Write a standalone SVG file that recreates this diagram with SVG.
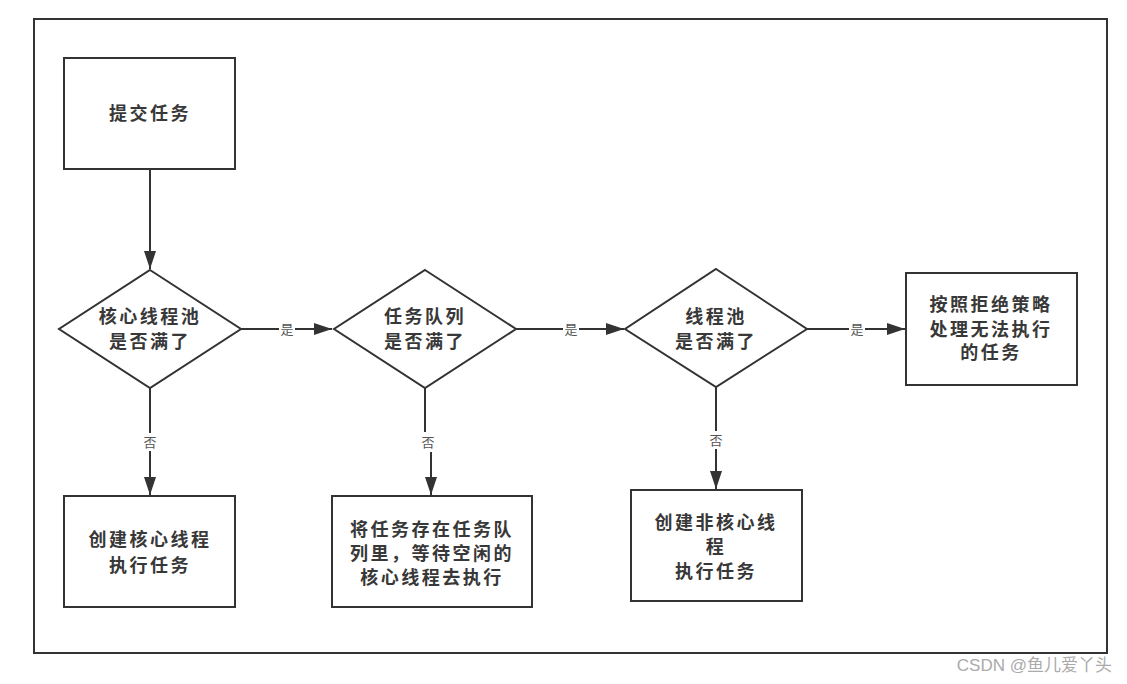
<svg xmlns="http://www.w3.org/2000/svg" width="1127" height="684" viewBox="0 0 1127 684">
<defs>
<marker id="arr" viewBox="0 0 18 12" refX="18" refY="6" markerWidth="18" markerHeight="12" markerUnits="userSpaceOnUse" orient="auto">
<path d="M0,0 L18,6 L0,12 Z" fill="#333"/>
</marker>
<style>
.shape{fill:#fff;stroke:#333;stroke-width:2}
.t{font-family:"Liberation Sans","Noto Sans CJK SC",sans-serif;font-size:18px;font-weight:bold;fill:#383838;text-anchor:middle;letter-spacing:2.5px}
.c{fill:none;stroke:#333;stroke-width:2}
.lbl{font-family:"Liberation Sans","Noto Sans CJK SC",sans-serif;font-size:13px;fill:#555;text-anchor:middle;dominant-baseline:central}
.lb{fill:#fff}
</style>
</defs>
<rect width="1127" height="684" fill="#fff"/>
<rect x="34" y="19" width="1073" height="634" fill="none" stroke="#333" stroke-width="2"/>

<g id="connectors">
<path class="c" d="M150,169 V269" marker-end="url(#arr)"/>
<path class="c" d="M241,329 H332" marker-end="url(#arr)"/>
<path class="c" d="M150,388 V495" marker-end="url(#arr)"/>
<path class="c" d="M516,329 H624" marker-end="url(#arr)"/>
<path class="c" d="M425,388 V442 H431 V495" marker-end="url(#arr)"/>
<path class="c" d="M807,329 H905" marker-end="url(#arr)"/>
<path class="c" d="M716,387 V489" marker-end="url(#arr)"/>
<rect class="lb" x="279" y="320" width="16" height="18"/>
<text class="lbl" x="287" y="329">是</text>
<rect class="lb" x="142" y="433" width="16" height="18"/>
<text class="lbl" x="150" y="442">否</text>
<rect class="lb" x="563" y="320" width="16" height="18"/>
<text class="lbl" x="571" y="329">是</text>
<rect class="lb" x="420" y="432" width="16" height="20"/>
<text class="lbl" x="428" y="442">否</text>
<rect class="lb" x="849" y="320" width="16" height="18"/>
<text class="lbl" x="857" y="329">是</text>
<rect class="lb" x="708" y="431" width="16" height="18"/>
<text class="lbl" x="716" y="440">否</text>
</g>

<g id="n-submit">
<rect class="shape" x="64" y="58" width="171" height="111"/>
<text class="t" x="150" y="120">提交任务</text>
</g>

<g id="n-core-full">
<polygon class="shape" points="150,270 241,329 150,388 59,329"/>
<text class="t" x="150" y="323">核心线程池</text>
<text class="t" x="150" y="348">是否满了</text>
</g>

<g id="n-create-core">
<rect class="shape" x="64" y="496" width="171" height="111"/>
<text class="t" x="150" y="546">创建核心线程</text>
<text class="t" x="150" y="572">执行任务</text>
</g>

<g id="n-queue-full">
<polygon class="shape" points="425,270 516,329 425,388 334,329"/>
<text class="t" x="425" y="323">任务队列</text>
<text class="t" x="425" y="348">是否满了</text>
</g>

<g id="n-enqueue">
<rect class="shape" x="332" y="496" width="200" height="111"/>
<text class="t" x="432" y="536">将任务存在任务队</text>
<text class="t" x="432" y="560">列里，等待空闲的</text>
<text class="t" x="432" y="584">核心线程去执行</text>
</g>

<g id="n-pool-full">
<polygon class="shape" points="716,269 807,329 716,387 625,329"/>
<text class="t" x="716" y="323">线程池</text>
<text class="t" x="716" y="348">是否满了</text>
</g>

<g id="n-create-noncore">
<rect class="shape" x="631" y="490" width="171" height="111"/>
<text class="t" x="716" y="529">创建非核心线</text>
<text class="t" x="716" y="553">程</text>
<text class="t" x="716" y="578">执行任务</text>
</g>

<g id="n-reject">
<rect class="shape" x="906" y="273" width="171" height="112"/>
<text class="t" x="991" y="311">按照拒绝策略</text>
<text class="t" x="991" y="336">处理无法执行</text>
<text class="t" x="991" y="359">的任务</text>
</g>

<text x="1112" y="671" font-family="'Liberation Sans','Noto Sans CJK SC',sans-serif" font-size="17" fill="#aaa" text-anchor="end">CSDN @鱼儿爱丫头</text>
</svg>
